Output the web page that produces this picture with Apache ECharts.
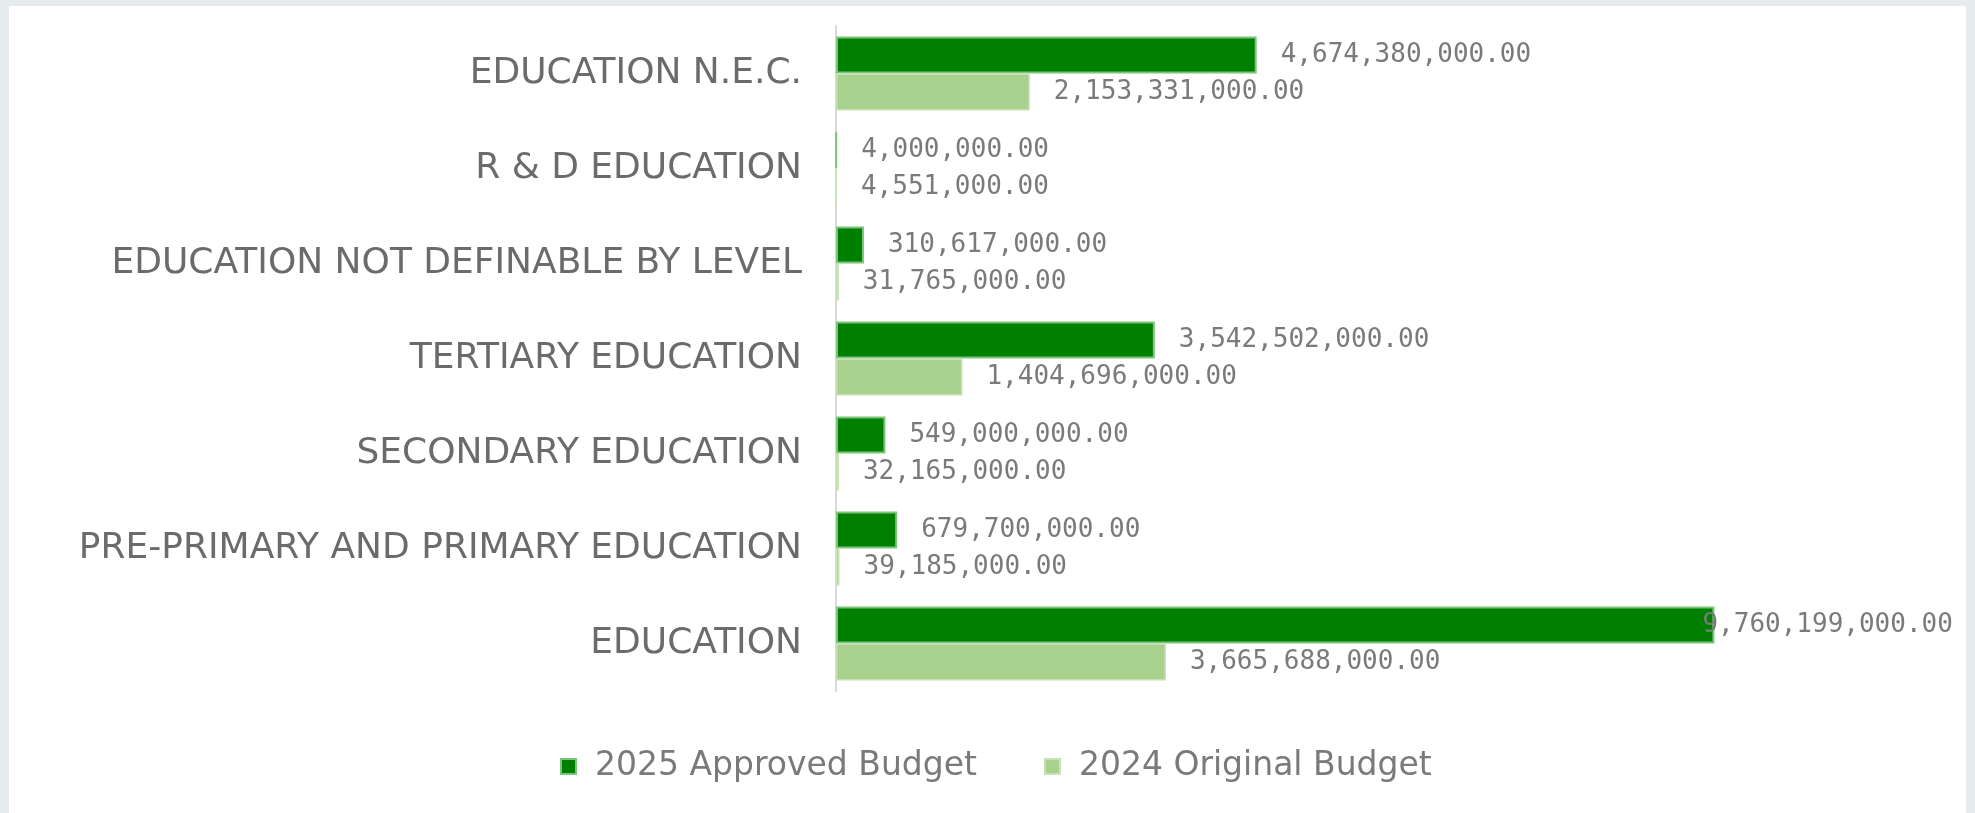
<!DOCTYPE html>
<html>
<head>
<meta charset="utf-8">
<script src="https://cdn.jsdelivr.net/npm/echarts@6/dist/echarts.min.js"></script>
<style>
  html, body { margin: 0; padding: 0; width: 1975px; height: 813px; overflow: hidden; background: #e6eced; }
  #chart { position: absolute; left: 9px; top: 6px; width: 1957px; height: 807px; background: #ffffff; }
</style>
</head>
<body>
<div id="chart"></div>
<script>
// Budget categories, listed top to bottom
const categories = [
  'EDUCATION N.E.C.',
  'R & D EDUCATION',
  'EDUCATION NOT DEFINABLE BY LEVEL',
  'TERTIARY EDUCATION',
  'SECONDARY EDUCATION',
  'PRE-PRIMARY AND PRIMARY EDUCATION',
  'EDUCATION'
];
const seriesNames = ['2025 Approved Budget', '2024 Original Budget'];
const approved2025 = [4674380000, 4000000, 310617000, 3542502000, 549000000, 679700000, 9760199000];
const original2024 = [2153331000, 4551000, 31765000, 1404696000, 32165000, 39185000, 3665688000];

const fmt = v => v.toLocaleString('en-US', { minimumFractionDigits: 2, maximumFractionDigits: 2 });

const labelStyle = {
  show: true,
  position: 'right',
  distance: 24,
  fontFamily: 'DejaVu Sans Mono',
  fontSize: 26,
  color: '#7a7a7a',
  formatter: p => fmt(p.value)
};

// the longest bar's label is pulled back so it stays inside the panel
const approvedData = approved2025.map((v, i) =>
  i === approved2025.length - 1
    ? { value: v, label: { distance: -12 } }
    : v
);

const chart = echarts.init(document.getElementById('chart'));
chart.setOption({
  animation: false,
  grid: { left: 827, top: 20, width: 900, height: 665, containLabel: false },
  xAxis: {
    type: 'value',
    min: 0,
    max: 10000000000,
    show: false
  },
  yAxis: {
    type: 'category',
    inverse: true,
    data: categories,
    axisLine: { show: true, lineStyle: { color: '#d9d9d9', width: 2 } },
    axisTick: { show: false },
    axisLabel: {
      margin: 34,
      fontFamily: 'DejaVu Sans',
      fontSize: 36,
      color: '#6b6b6b'
    }
  },
  legend: {
    left: 546,
    top: 739,
    itemWidth: 15,
    itemHeight: 15,
    itemGap: 67,
    icon: 'rect',
    textStyle: {
      fontFamily: 'DejaVu Sans',
      fontSize: 33,
      color: '#7a7a7a',
      padding: [0, 0, 0, 14]
    },
    data: seriesNames
  },
  series: [
    {
      name: seriesNames[0],
      type: 'bar',
      data: approvedData,
      barGap: '0%',
      barCategoryGap: '22%',
      itemStyle: { color: '#008000', borderColor: '#7cc47c', borderWidth: 2 },
      label: labelStyle
    },
    {
      name: seriesNames[1],
      type: 'bar',
      data: original2024,
      itemStyle: { color: '#a9d18e', borderColor: '#c6e2b4', borderWidth: 1.5 },
      label: labelStyle
    }
  ]
});
</script>
</body>
</html>
